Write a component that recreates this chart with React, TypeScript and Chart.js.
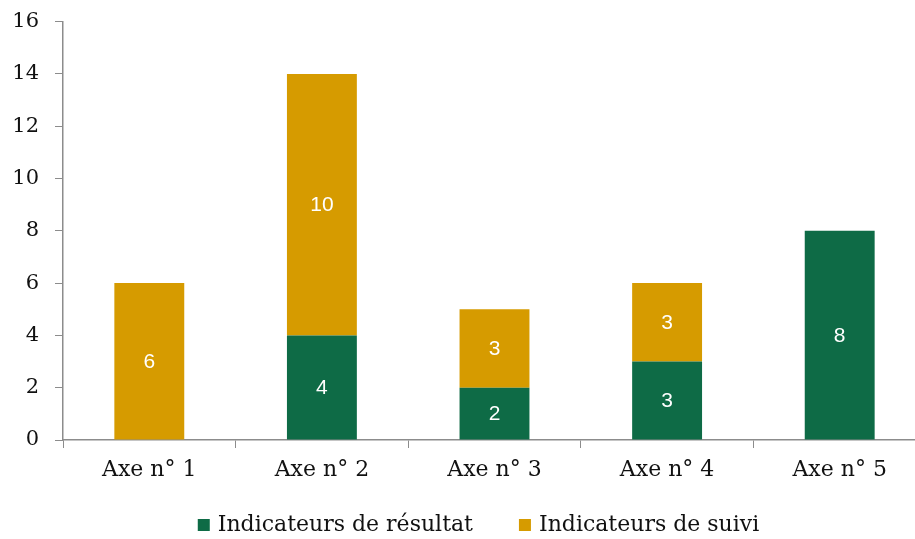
import React, { useEffect, useRef } from "react";
import { Chart, registerables } from "chart.js";

Chart.register(...registerables);

const categories = ["Axe n° 1", "Axe n° 2", "Axe n° 3", "Axe n° 4", "Axe n° 5"];
const resultat = [0, 4, 2, 3, 8];
const suivi = [6, 10, 3, 3, 0];
const seriesNames = ["Indicateurs de résultat", "Indicateurs de suivi"];

const GREEN = "#0E6B46";
const GOLD = "#D69B00";
const AXIS = "#8C8C8C";
const SERIF = "'DejaVu Serif', serif";

const valueLabels = {
  id: "valueLabels",
  afterDatasetsDraw(chart: any) {
    const ctx = chart.ctx;
    ctx.save();
    ctx.fillStyle = "#FFFFFF";
    ctx.font = "21px 'Liberation Sans', Arial, sans-serif";
    ctx.textAlign = "center";
    ctx.textBaseline = "middle";
    chart.data.datasets.forEach((ds: any, i: number) => {
      const meta = chart.getDatasetMeta(i);
      meta.data.forEach((el: any, j: number) => {
        const v = ds.data[j];
        if (!v) return;
        ctx.fillText(String(v), el.x, (el.y + el.base) / 2 + 1);
      });
    });
    ctx.restore();
  },
};

const bottomLegend = {
  id: "bottomLegend",
  afterDraw(chart: any) {
    const ctx = chart.ctx;
    const area = chart.chartArea;
    const box = 12;
    const textGap = 8;
    const itemGap = 46;
    ctx.save();
    ctx.font = `22px ${SERIF}`;
    const items = chart.data.datasets.map((ds: any) => ({
      label: ds.label,
      color: ds.backgroundColor,
      w: ctx.measureText(ds.label).width,
    }));
    const total = items.reduce((s: number, it: any, i: number) => s + box + textGap + it.w + (i ? itemGap : 0), 0);
    let x = (area.left + area.right) / 2 - 16 - total / 2;
    const y = area.bottom + 85;
    ctx.textBaseline = "middle";
    ctx.textAlign = "left";
    items.forEach((it: any) => {
      ctx.fillStyle = it.color;
      ctx.fillRect(x, y - box / 2, box, box);
      ctx.fillStyle = "#111";
      ctx.fillText(it.label, x + box + textGap, y);
      x += box + textGap + it.w + itemGap;
    });
    ctx.restore();
  },
};

export default function App() {
  const ref = useRef<HTMLCanvasElement | null>(null);
  useEffect(() => {
    if (!ref.current) return;
    const chart = new Chart(ref.current, {
      type: "bar",
      data: {
        labels: categories,
        datasets: [
          { label: seriesNames[0], data: resultat, backgroundColor: GREEN, borderWidth: 0 },
          { label: seriesNames[1], data: suivi, backgroundColor: GOLD, borderWidth: 0 },
        ],
      },
      options: {
        responsive: false,
        animation: false,
        layout: { padding: { top: 0, left: 0, right: 0, bottom: 47 } },
        datasets: { bar: { categoryPercentage: 1, barPercentage: 0.405 } },
        plugins: {
          tooltip: { enabled: false },
          legend: { display: false },
        },
        scales: {
          x: {
            stacked: true,
            afterFit: (s: any) => { s.height = 52; },
            grid: { drawOnChartArea: false, drawTicks: true, tickLength: 8, color: AXIS, offset: true },
            border: { color: AXIS, width: 1.5 },
            ticks: { color: "#111", padding: 9, font: { family: SERIF, size: 22 } },
          },
          y: {
            stacked: true,
            min: 0,
            max: 16,
            afterFit: (s: any) => { s.width = 63; },
            grid: { drawOnChartArea: false, drawTicks: true, tickLength: 8, color: AXIS },
            border: { color: AXIS, width: 1.5 },
            ticks: { stepSize: 2, color: "#111", padding: 16, font: { family: SERIF, size: 21 } },
          },
        },
      },
      plugins: [valueLabels, bottomLegend],
    });
    return () => chart.destroy();
  }, []);
  return (
    <div style={{ position: "absolute", left: 0, top: 0, width: 915, height: 539, overflow: "hidden", background: "#fff" }}>
      <canvas ref={ref} width={926} height={546} style={{ display: "block", width: 926, height: 546, marginTop: -7 }} />
    </div>
  );
}
